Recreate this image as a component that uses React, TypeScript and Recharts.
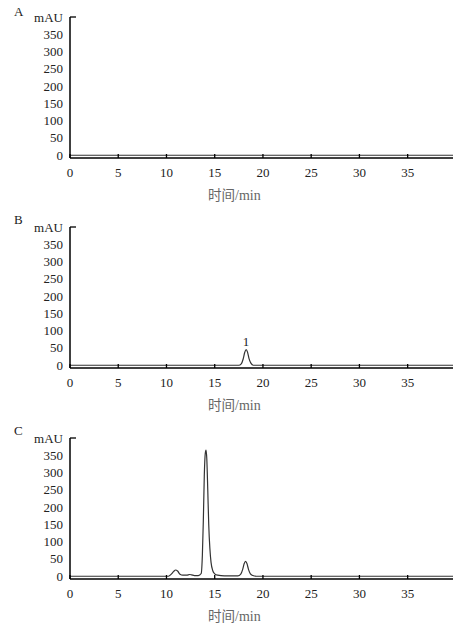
import React from "react";
import { LineChart, Line, XAxis, YAxis, ReferenceDot } from "recharts";

// axis ticks
const xTicks = [0, 5, 10, 15, 20, 25, 30, 35];
const yTicks = [0, 50, 100, 150, 200, 250, 300, 350, 400];

// A: blank
const blankTime = [0, 39.7];
const blankSignal = [0, 0];

// B: standard, one peak (1)
const stdTime = [0, 17.5, 17.75, 17.95, 18.1, 18.25, 18.4, 18.55, 18.75, 19.0, 39.7];
const stdSignal = [0, 0, 4, 18, 36, 45, 38, 20, 6, 0, 0];

// C: sample
const sampleTime = [
  0, 10.2, 10.5, 10.75, 10.95, 11.15, 11.4, 11.7, 12.1, 12.4, 12.6, 12.9, 13.3,
  13.6, 13.72, 13.82, 13.92, 14.02, 14.1, 14.18, 14.28, 14.38, 14.5, 14.62,
  14.8, 15.0, 15.3, 16.0, 17.4, 17.7, 17.9, 18.05, 18.2, 18.35, 18.5, 18.7,
  18.95, 19.3, 39.7,
];
const sampleSignal = [
  0, 0, 6, 14, 18, 15, 6, 3, 3, 5, 4, 2, 2,
  8, 60, 160, 290, 355, 365, 340, 250, 150, 80, 40,
  16, 7, 3, 1, 1, 6, 20, 36, 43, 36, 20, 7,
  2, 0, 0,
];

const zip = (t: number[], v: number[]) => t.map((x, i) => ({ t: x, v: v[i] }));

const SERIF = "Liberation Serif, Times New Roman, DejaVu Serif, serif";
const CJK = "Noto Sans CJK SC, sans-serif";

const XTick = (props: any) => {
  const { x, y, payload } = props;
  return (
    <g>
      <line x1={x} y1={y} x2={x} y2={y - 4} stroke="#000" strokeWidth={1.3} />
      <text x={x} y={y + 19} textAnchor="middle" style={{ fontFamily: SERIF, fontSize: 13 }} fill="#222">
        {payload.value}
      </text>
    </g>
  );
};

const YTick = (props: any) => {
  const { x, y, payload } = props;
  const top = payload.value === 400;
  return (
    <g>
      {top && <line x1={x} y1={y} x2={x + 6} y2={y} stroke="#000" strokeWidth={1.3} />}
      <text x={x - 7} y={y + 4.5} textAnchor="end" style={{ fontFamily: SERIF, fontSize: 13 }} fill="#222">
        {top ? "mAU" : payload.value}
      </text>
    </g>
  );
};

const AxisTitle = (props: any) => {
  const { viewBox } = props;
  return (
    <text x={viewBox.x + 138} y={viewBox.y + 42} fill="#666" style={{ fontSize: 13.5 }}>
      <tspan style={{ fontFamily: CJK }}>时间</tspan>
      <tspan style={{ fontFamily: SERIF, fontSize: 14 }}>/min</tspan>
    </text>
  );
};

function Panel({ data, height, peak }: { data: { t: number; v: number }[]; height: number; peak?: boolean }) {
  return (
    <LineChart
      width={466}
      height={height}
      data={data}
      margin={{ top: 17, right: 13, left: 0, bottom: 0 }}
    >
      <XAxis
        dataKey="t"
        type="number"
        domain={[0, 39.7]}
        ticks={xTicks}
        height={height - 158}
        tickSize={0}
        tickMargin={0}
        tickLine={false}
        axisLine={{ stroke: "#000", strokeWidth: 1.5 }}
        tick={<XTick />}
        label={<AxisTitle />}
        allowDataOverflow
      />
      <YAxis
        type="number"
        domain={[-8, 400]}
        ticks={yTicks}
        width={70}
        tickSize={0}
        tickMargin={0}
        tickLine={false}
        axisLine={{ stroke: "#000", strokeWidth: 1.5 }}
        tick={<YTick />}
        interval={0}
        allowDataOverflow
      />
      <Line
        dataKey="v"
        type="monotone"
        stroke="#333"
        strokeWidth={1.2}
        dot={false}
        activeDot={false}
        isAnimationActive={false}
      />
      {peak && (
        <ReferenceDot
          x={18.25}
          y={45}
          r={0}
          stroke="none"
          label={{ value: "1", position: "top", offset: 4, style: { fontFamily: SERIF, fontSize: 13 }, fill: "#222" }}
        />
      )}
    </LineChart>
  );
}

const letter = (top: number): React.CSSProperties => ({
  position: "absolute",
  left: 14,
  top,
  fontFamily: SERIF,
  fontSize: 13,
  color: "#222",
});

export default function App() {
  return (
    <div style={{ position: "absolute", left: 0, top: 0, width: 466, height: 628, background: "#fff" }}>
      <div style={letter(4)}>A</div>
      <div style={letter(212)}>B</div>
      <div style={letter(423)}>C</div>
      <div style={{ position: "absolute", left: 0, top: 0 }}>
        <Panel data={zip(blankTime, blankSignal)} height={211} />
      </div>
      <div style={{ position: "absolute", left: 0, top: 210 }}>
        <Panel data={zip(stdTime, stdSignal)} height={211} peak />
      </div>
      <div style={{ position: "absolute", left: 0, top: 421 }}>
        <Panel data={zip(sampleTime, sampleSignal)} height={207} />
      </div>
    </div>
  );
}
